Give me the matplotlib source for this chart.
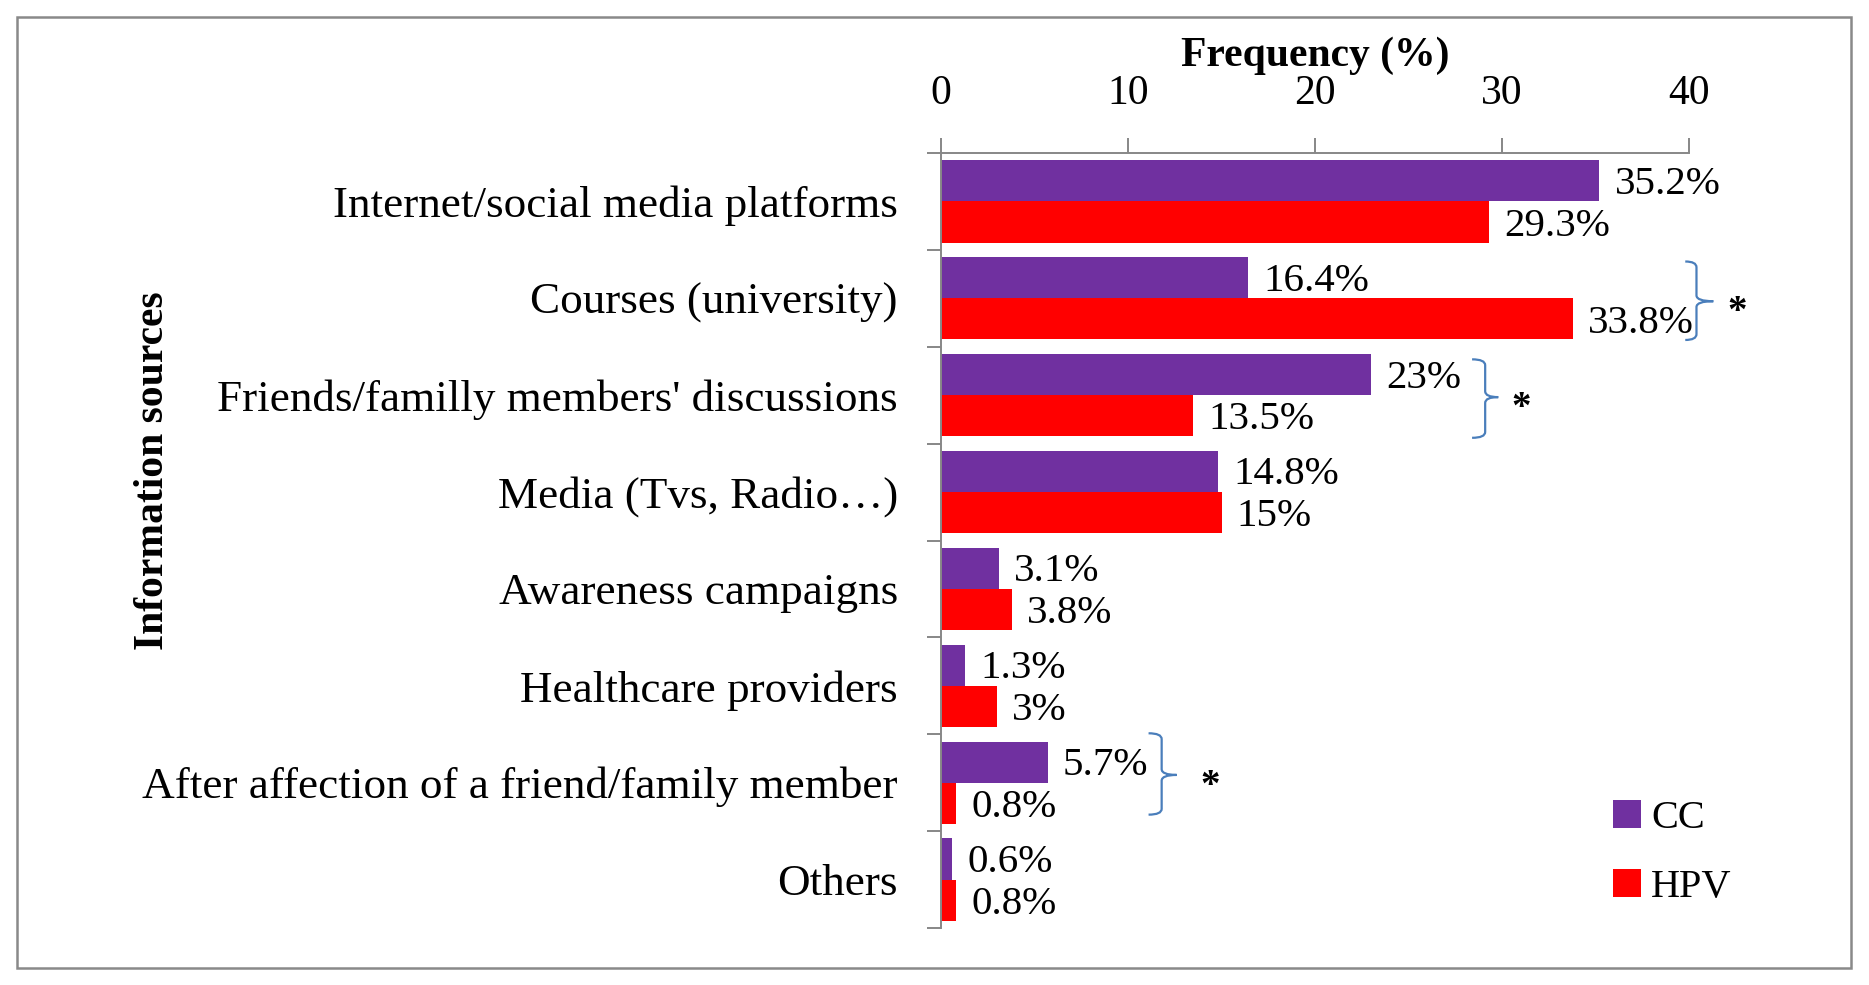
import matplotlib
matplotlib.use("Agg")
import matplotlib.pyplot as plt
import numpy as np
from matplotlib.patches import Patch, Rectangle
from matplotlib.path import Path
from matplotlib.patches import PathPatch

# ---- data ----
categories = [
    "Internet/social media platforms",
    "Courses (university)",
    "Friends/familly members' discussions",
    "Media (Tvs, Radio\u2026)",
    "Awareness campaigns",
    "Healthcare providers",
    "After affection of a friend/family member",
    "Others",
]
cc_values = [35.2, 16.4, 23.0, 14.8, 3.1, 1.3, 5.7, 0.6]
hpv_values = [29.3, 33.8, 13.5, 15.0, 3.8, 3.0, 0.8, 0.8]
series_names = ["CC", "HPV"]
x_ticks = [0, 10, 20, 30, 40]

# significance braces (row index, x of ends, x of spine, x of tip, x of star,
# top offset, bottom offset, mid offset)
braces = [
    (1, 39.8, 40.4, 41.3, 42.6, -0.38, 0.43, 0.03),
    (2, 28.4, 29.1, 29.8, 31.0, -0.37, 0.44, 0.02),
    (6, 11.1, 11.8, 12.6, 14.4, -0.51, 0.33, -0.08),
]

CC_COLOR = "#7030A0"
HPV_COLOR = "#FF0000"
GRAY = "#878787"
BRACE_COLOR = "#4A7EBB"
FONT = "Liberation Serif"

plt.rcParams["font.family"] = [FONT, "DejaVu Serif"]

W, H = 1869, 985
fig = plt.figure(figsize=(W / 100, H / 100), dpi=100)
ax = fig.add_axes([941 / W, 1 - 928 / H, (1689 - 941) / W, (928 - 153) / H])

n = len(categories)
y = np.arange(n)
h = 0.425
ax.barh(y - h / 2, cc_values, height=h, color=CC_COLOR, label=series_names[0])
ax.barh(y + h / 2, hpv_values, height=h, color=HPV_COLOR, label=series_names[1])

ax.set_xlim(0, 40)
ax.set_ylim(n - 0.5, -0.5)

# x axis on top
ax.xaxis.tick_top()
ax.xaxis.set_label_position("top")
ax.set_xticks(x_ticks)
ax.set_xticklabels([str(t) for t in x_ticks], fontsize=30)
ax.tick_params(axis="x", which="major", length=10.5, width=1.4, color=GRAY, pad=18.5)
ax.set_xlabel("Frequency (%)", fontsize=30, fontweight="bold", labelpad=6)

# y axis
ax.set_yticks(y)
ax.set_yticklabels(categories, fontsize=32.5)
ax.set_yticks(np.arange(-0.5, n, 1.0), minor=True)
ax.tick_params(axis="y", which="major", length=0, pad=31)
ax.tick_params(axis="y", which="minor", length=10, width=1.4, color=GRAY)

for side in ["right", "bottom"]:
    ax.spines[side].set_visible(False)
for side in ["left", "top"]:
    ax.spines[side].set_color(GRAY)
    ax.spines[side].set_linewidth(1.4)

# data labels
for i in range(n):
    ax.annotate(f"{cc_values[i]:g}%", xy=(cc_values[i], y[i] - h / 2), xytext=(11, -2.5),
                textcoords="offset points", va="center", ha="left", fontsize=29.5)
    ax.annotate(f"{hpv_values[i]:g}%", xy=(hpv_values[i], y[i] + h / 2), xytext=(11, -3),
                textcoords="offset points", va="center", ha="left", fontsize=29.5)

# braces with stars
for row, x0, x1, x2, xs, top, bot, mid in braces:
    yt, yb, ym = row + top, row + bot, row + mid
    r = 0.06
    verts = [
        (x0, yt), (x1, yt), (x1, yt + r),
        (x1, ym - r), (x1, ym), (x2, ym),
        (x1, ym), (x1, ym + r),
        (x1, yb - r), (x1, yb), (x0, yb),
    ]
    codes = [
        Path.MOVETO, Path.CURVE3, Path.CURVE3,
        Path.LINETO, Path.CURVE3, Path.CURVE3,
        Path.CURVE3, Path.CURVE3,
        Path.LINETO, Path.CURVE3, Path.CURVE3,
    ]
    ax.add_patch(PathPatch(Path(verts, codes), fill=False, edgecolor=BRACE_COLOR,
                           linewidth=1.6, clip_on=False))
    ax.text(xs, ym + 0.12, "*", fontsize=28, fontweight="bold", ha="center",
            va="center", clip_on=False)

# y axis title
fig.text(153 / W, 1 - 471 / H, "Information sources", rotation=90, fontsize=30,
         fontweight="bold", ha="center", va="center")

# legend
handles = [Patch(facecolor=CC_COLOR), Patch(facecolor=HPV_COLOR)]
fig.legend(handles, series_names, loc="upper left",
           bbox_to_anchor=(1613 / W, 1 - 800 / H), frameon=False, fontsize=29,
           handlelength=0.7, handleheight=0.7, handletextpad=0.25,
           labelspacing=0.78, borderpad=0, borderaxespad=0)

# outer frame
fig.patches.append(Rectangle((17 / W, 1 - 968 / H), (1851 - 17) / W, (968 - 17) / H,
                             transform=fig.transFigure, fill=False,
                             edgecolor="#898989", linewidth=1.8))

fig.savefig("out.png", dpi=100)
